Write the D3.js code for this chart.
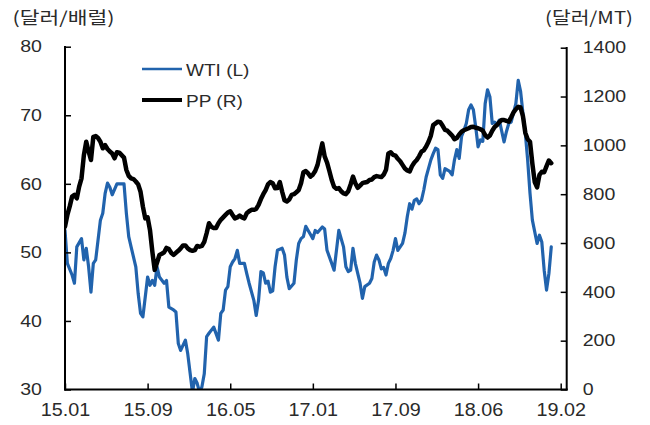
<!DOCTYPE html>
<html><head><meta charset="utf-8">
<script src="https://cdn.jsdelivr.net/npm/d3@7"></script>
<style>
body{margin:0;background:#fff;}
svg{display:block;}
text{font-family:"Liberation Sans",Arial,sans-serif;fill:#2a2a2a;}
</style></head>
<body><svg id="c" width="650" height="425"></svg>
<script>
// ---- data ----
const xTickLabels = ["15.01","15.09","16.05","17.01","17.09","18.06","19.02"];
const xTickWeeks  = [0,35,70,105,140,175,210];
const leftTicks   = [30,40,50,60,70,80];
const rightTicks  = [0,200,400,600,800,1000,1200,1400];
const seriesNames = ["WTI (L)","PP (R)"];

const wtiWeek = [0,1,3,4,5,7,8,9,10,11,12,13,15,16,17,18,19,20,22,25,26,27,28,30,31,32,33,35,36,37,38,39,40,42,43,44,46,47,48,49,51,52,54,55,56,57,58,59,60,61,63,65,66,67,68,69,70,71,72,73,74,76,77,78,80,81,82,83,84,85,86,87,88,89,90,92,93,94,95,97,98,99,100,101,102,103,104,105,106,107,109,110,111,113,114,115,116,118,119,120,121,122,123,125,126,127,129,130,131,132,133,134,135,136,137,138,139,140,141,143,144,145,146,147,148,149,150,151,152,153,155,156,157,158,159,160,161,163,164,165,166,167,168,169,170,171,172,173,174,175,176,177,178,179,180,181,182,183,184,186,187,188,189,191,192,193,194,195,196,197,198,200,201,202,203,204,205,206];
const wtiValue = [53.2,48.4,46.7,45.5,50.8,52.0,48.9,50.6,47.9,44.2,48.4,48.9,54.7,55.7,58.6,60.1,59.5,58.4,60.0,60.0,55.7,52.3,50.8,47.9,44.0,41.1,40.6,46.4,45.2,45.9,45.2,47.9,46.4,45.5,45.9,42.0,41.6,41.3,36.7,35.7,37.2,35.2,29.6,31.6,30.9,29.6,30.4,32.3,37.7,38.2,39.1,37.2,41.1,41.6,44.5,45.0,47.9,48.6,49.1,50.3,48.4,48.4,46.9,45.5,43.0,40.8,43.0,47.2,47.0,45.5,45.8,44.2,44.4,47.9,50.3,50.6,49.6,46.4,44.7,45.5,48.9,51.3,52.0,52.3,53.8,53.2,52.6,52.0,53.2,52.9,53.7,53.4,50.3,48.4,47.4,50.3,53.2,50.8,47.9,47.2,47.4,50.6,48.4,45.5,43.3,45.0,45.5,46.2,48.6,49.6,48.9,47.6,47.8,46.7,48.4,49.1,50.3,52.0,50.3,51.3,52.8,55.2,57.1,56.3,57.6,57.8,57.1,57.6,59.1,61.0,63.5,64.4,65.2,65.0,61.3,60.8,62.2,61.8,61.3,63.5,65.0,63.7,66.9,67.8,68.8,70.8,71.5,70.8,68.3,65.4,66.4,66.2,71.7,73.7,72.7,68.8,69.0,68.6,69.3,66.1,67.6,68.8,69.0,71.7,75.1,73.5,70.3,67.4,63.5,58.6,54.7,51.3,52.5,51.5,47.4,44.5,46.9,50.8];

// PP, one value per week starting at week 0
const ppValue = [667,715,750,790,797,783,831,865,960,1015,975,940,1035,1038,1030,1015,988,1001,985,975,967,947,972,970,960,950,899,875,865,862,852,840,810,749,701,705,653,565,490,520,551,556,562,580,575,560,551,560,568,578,590,590,578,571,568,571,588,585,588,605,640,681,667,662,662,681,695,705,715,725,730,715,701,705,712,705,701,722,730,736,736,740,756,780,800,817,840,850,845,824,825,850,810,775,770,778,797,800,808,817,845,890,895,885,872,880,895,920,965,1008,955,930,895,858,830,822,825,812,803,800,812,840,872,845,826,835,845,848,850,858,860,870,874,872,870,880,900,967,972,961,958,945,935,920,905,897,893,915,930,940,955,974,980,995,1015,1040,1083,1090,1097,1095,1080,1063,1060,1050,1040,1025,1030,1045,1056,1062,1066,1070,1075,1076,1072,1070,1066,1060,1042,1032,1040,1060,1075,1083,1095,1104,1104,1100,1097,1115,1135,1148,1158,1155,1120,1052,1025,1015,925,850,828,879,892,890,915,938,927];

// ---- layout ----
const L = 65, R = 566.7, B = 389.5;
const svg = d3.select("#c");
const x  = d3.scaleLinear().domain([0,210]).range([L, 560.7]);
const yL = d3.scaleLinear().domain([30,80]).range([B, 46.7]);
const yR = d3.scaleLinear().domain([0,1400]).range([B, 47.7]);

const blue = "#2163ad";

svg.append("clipPath").attr("id","clip").append("rect")
  .attr("x", L).attr("y", 30).attr("width", R-L).attr("height", B-30);

// lines
const wtiData = wtiWeek.map((w,i)=>({w, v: wtiValue[i]}));
const ppData  = ppValue.map((v,i)=>({w:i, v}));
svg.append("path").datum(wtiData)
  .attr("clip-path","url(#clip)")
  .attr("fill","none").attr("stroke",blue).attr("stroke-width",3.2)
  .attr("stroke-linejoin","round").attr("stroke-linecap","round")
  .attr("d", d3.line().x(d=>x(d.w)).y(d=>yL(d.v)));
svg.append("path").datum(ppData)
  .attr("clip-path","url(#clip)")
  .attr("fill","none").attr("stroke","#000").attr("stroke-width",4.5)
  .attr("stroke-linejoin","round").attr("stroke-linecap","round")
  .attr("d", d3.line().x(d=>x(d.w)).y(d=>yR(d.v)));

// axes
svg.append("g").attr("class","ax ay").attr("transform",`translate(${L},0)`)
  .call(d3.axisLeft(yL).tickValues(leftTicks).tickFormat(d3.format("d")).tickSize(-6).tickPadding(23).tickSizeOuter(0));
svg.append("g").attr("class","ax ay").attr("transform",`translate(${R},0)`)
  .call(d3.axisRight(yR).tickValues(rightTicks).tickFormat(d3.format("d")).tickSize(-6).tickPadding(16).tickSizeOuter(0));
svg.append("g").attr("class","ax axx").attr("transform",`translate(0,${B})`)
  .call(d3.axisBottom(x).tickValues(xTickWeeks).tickFormat((d,i)=>xTickLabels[i])
        .tickSize(-6).tickPadding(14).tickSizeOuter(0));
svg.selectAll(".ax .domain").remove();
svg.selectAll(".ax line").attr("stroke","#000").attr("stroke-width",1.5);
svg.selectAll(".ay text").attr("font-size",16.3).attr("fill","#2a2a2a")
   .attr("font-family","Liberation Sans, Arial, sans-serif");
svg.selectAll(".axx text").attr("font-size",17.5).attr("fill","#2a2a2a")
   .attr("font-family","Liberation Sans, Arial, sans-serif");

// axis lines
svg.append("line").attr("x1",L).attr("x2",L).attr("y1",46).attr("y2",B+1).attr("stroke","#000").attr("stroke-width",2);
svg.append("line").attr("x1",R).attr("x2",R).attr("y1",47).attr("y2",B+1).attr("stroke","#000").attr("stroke-width",2);
svg.append("line").attr("x1",L-1).attr("x2",R+1).attr("y1",B).attr("y2",B).attr("stroke","#000").attr("stroke-width",2);

// unit titles
svg.append("text").attr("class","ttl").attr("x",12.5).attr("y",24).attr("font-size",17)
  .style("font-family","'Noto Sans CJK KR', sans-serif").text("(달러/배럴)");
svg.append("text").attr("class","ttl").attr("x",633).attr("y",24).attr("font-size",17)
  .attr("text-anchor","end")
  .style("font-family","'Noto Sans CJK KR', sans-serif").text("(달러/MT)");

// legend
const leg = [{name:seriesNames[0], color:blue, w:2.5, y:69},{name:seriesNames[1], color:"#000", w:4, y:100}];
leg.forEach(l=>{
  svg.append("line").attr("x1",142).attr("x2",182).attr("y1",l.y).attr("y2",l.y)
    .attr("stroke",l.color).attr("stroke-width",l.w);
  svg.append("text").attr("class","leg").attr("x",186).attr("y",l.y+7).attr("font-size",17).text(l.name);
});

// horizontal stretch of text to match reference
function stretch(sel, k){
  sel.each(function(){
    const w = this.getComputedTextLength();
    d3.select(this).attr("textLength", w*k).attr("lengthAdjust","spacingAndGlyphs");
  });
}
stretch(svg.selectAll(".ay text"), 1.2);
stretch(svg.selectAll(".axx text"), 1.13);
stretch(svg.selectAll(".leg"), 1.12);
svg.selectAll(".ttl").each(function(d,i){
  const target = i===0 ? 102 : 88;
  d3.select(this).attr("textLength", target).attr("lengthAdjust","spacingAndGlyphs");
});
</script></body></html>
